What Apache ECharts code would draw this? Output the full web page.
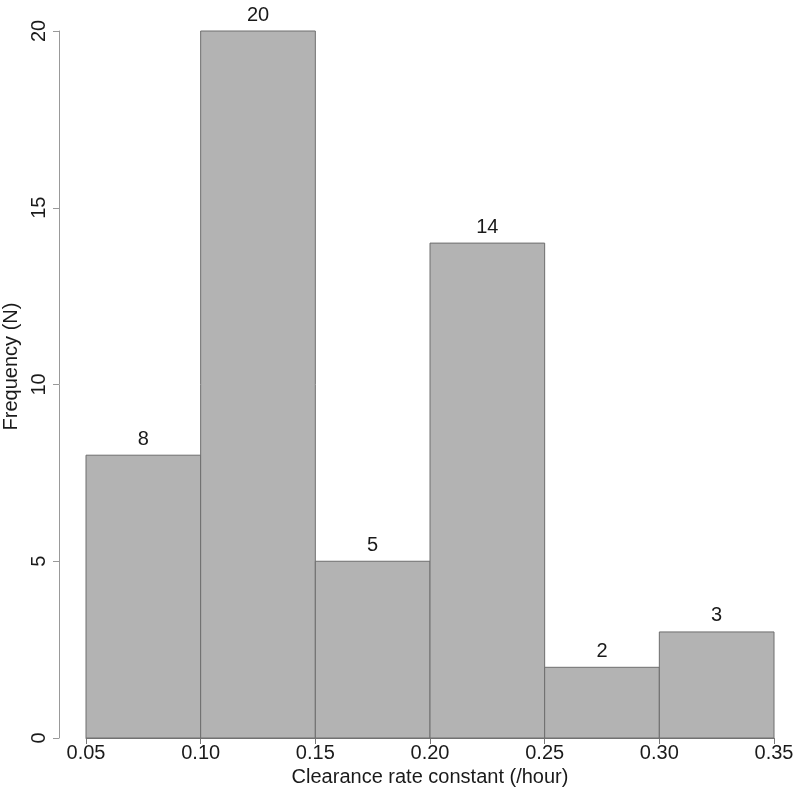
<!DOCTYPE html>
<html><head><meta charset="utf-8">
<script src="https://cdn.jsdelivr.net/npm/echarts@6/dist/echarts.min.js"></script>
<style>html,body{margin:0;padding:0;background:#fff}#c{width:799px;height:795px}</style>
</head><body><div id="c"></div>
<script>
const binStarts = [0.05, 0.10, 0.15, 0.20, 0.25, 0.30];
const binEnds   = [0.10, 0.15, 0.20, 0.25, 0.30, 0.35];
const counts    = [8, 20, 5, 14, 2, 3];
const xTicks = [0.05, 0.10, 0.15, 0.20, 0.25, 0.30, 0.35];
const yTicks = [0, 5, 10, 15, 20];

const FONT = 'Liberation Sans, Arial, sans-serif';
const chart = echarts.init(document.getElementById('c'));
const data = binStarts.map((s, i) => [s, binEnds[i], counts[i]]);
chart.setOption({
  animation: false,
  grid: {left: 86, right: 25, top: 31, bottom: 57, outerBoundsMode: 'none', containLabel: false},
  xAxis: {
    type: 'value', min: 0.05, max: 0.35, interval: 0.05,
    name: 'Clearance rate constant (/hour)', nameLocation: 'middle', nameGap: 29,
    nameTextStyle: {fontFamily: FONT, fontSize: 20, color: '#1a1a1a'},
    axisLine: {show: true, lineStyle: {color: '#777', width: 1}},
    axisTick: {show: true, length: 6, lineStyle: {color: '#777'}},
    axisLabel: {fontFamily: FONT, fontSize: 20, color: '#1a1a1a', margin: 5,
      formatter: v => v.toFixed(2)},
    splitLine: {show: false}
  },
  yAxis: {
    type: 'value', min: 0, max: 20, interval: 5, offset: 27,
    name: 'Frequency (N)', nameLocation: 'middle', nameGap: 28, nameRotate: 90,
    nameTextStyle: {fontFamily: FONT, fontSize: 20, color: '#1a1a1a', padding: [0, 0, 0, 36]},
    axisLine: {show: true, lineStyle: {color: '#999', width: 1}},
    axisTick: {show: true, length: 6, lineStyle: {color: '#999'}},
    axisLabel: {fontFamily: FONT, fontSize: 20, color: '#1a1a1a', rotate: 90, margin: 10,
      align: 'center', verticalAlign: 'bottom'},
    splitLine: {show: false}
  },
  series: [{
    type: 'custom',
    data: data,
    renderItem: function (params, api) {
      const p0 = api.coord([api.value(0), 0]);
      const p1 = api.coord([api.value(1), api.value(2)]);
      return {
        type: 'group',
        children: [{
          type: 'rect',
          shape: {x: p0[0], y: p1[1], width: p1[0] - p0[0], height: p0[1] - p1[1]},
          style: {fill: '#b3b3b3', stroke: '#6e6e6e', lineWidth: 1}
        }, {
          type: 'text',
          style: {text: String(api.value(2)), x: (p0[0] + p1[0]) / 2, y: p1[1] - 6,
            textAlign: 'center', textVerticalAlign: 'bottom',
            fontFamily: FONT, fontSize: 20, fill: '#1a1a1a'}
        }]
      };
    }
  }]
});
</script></body></html>
